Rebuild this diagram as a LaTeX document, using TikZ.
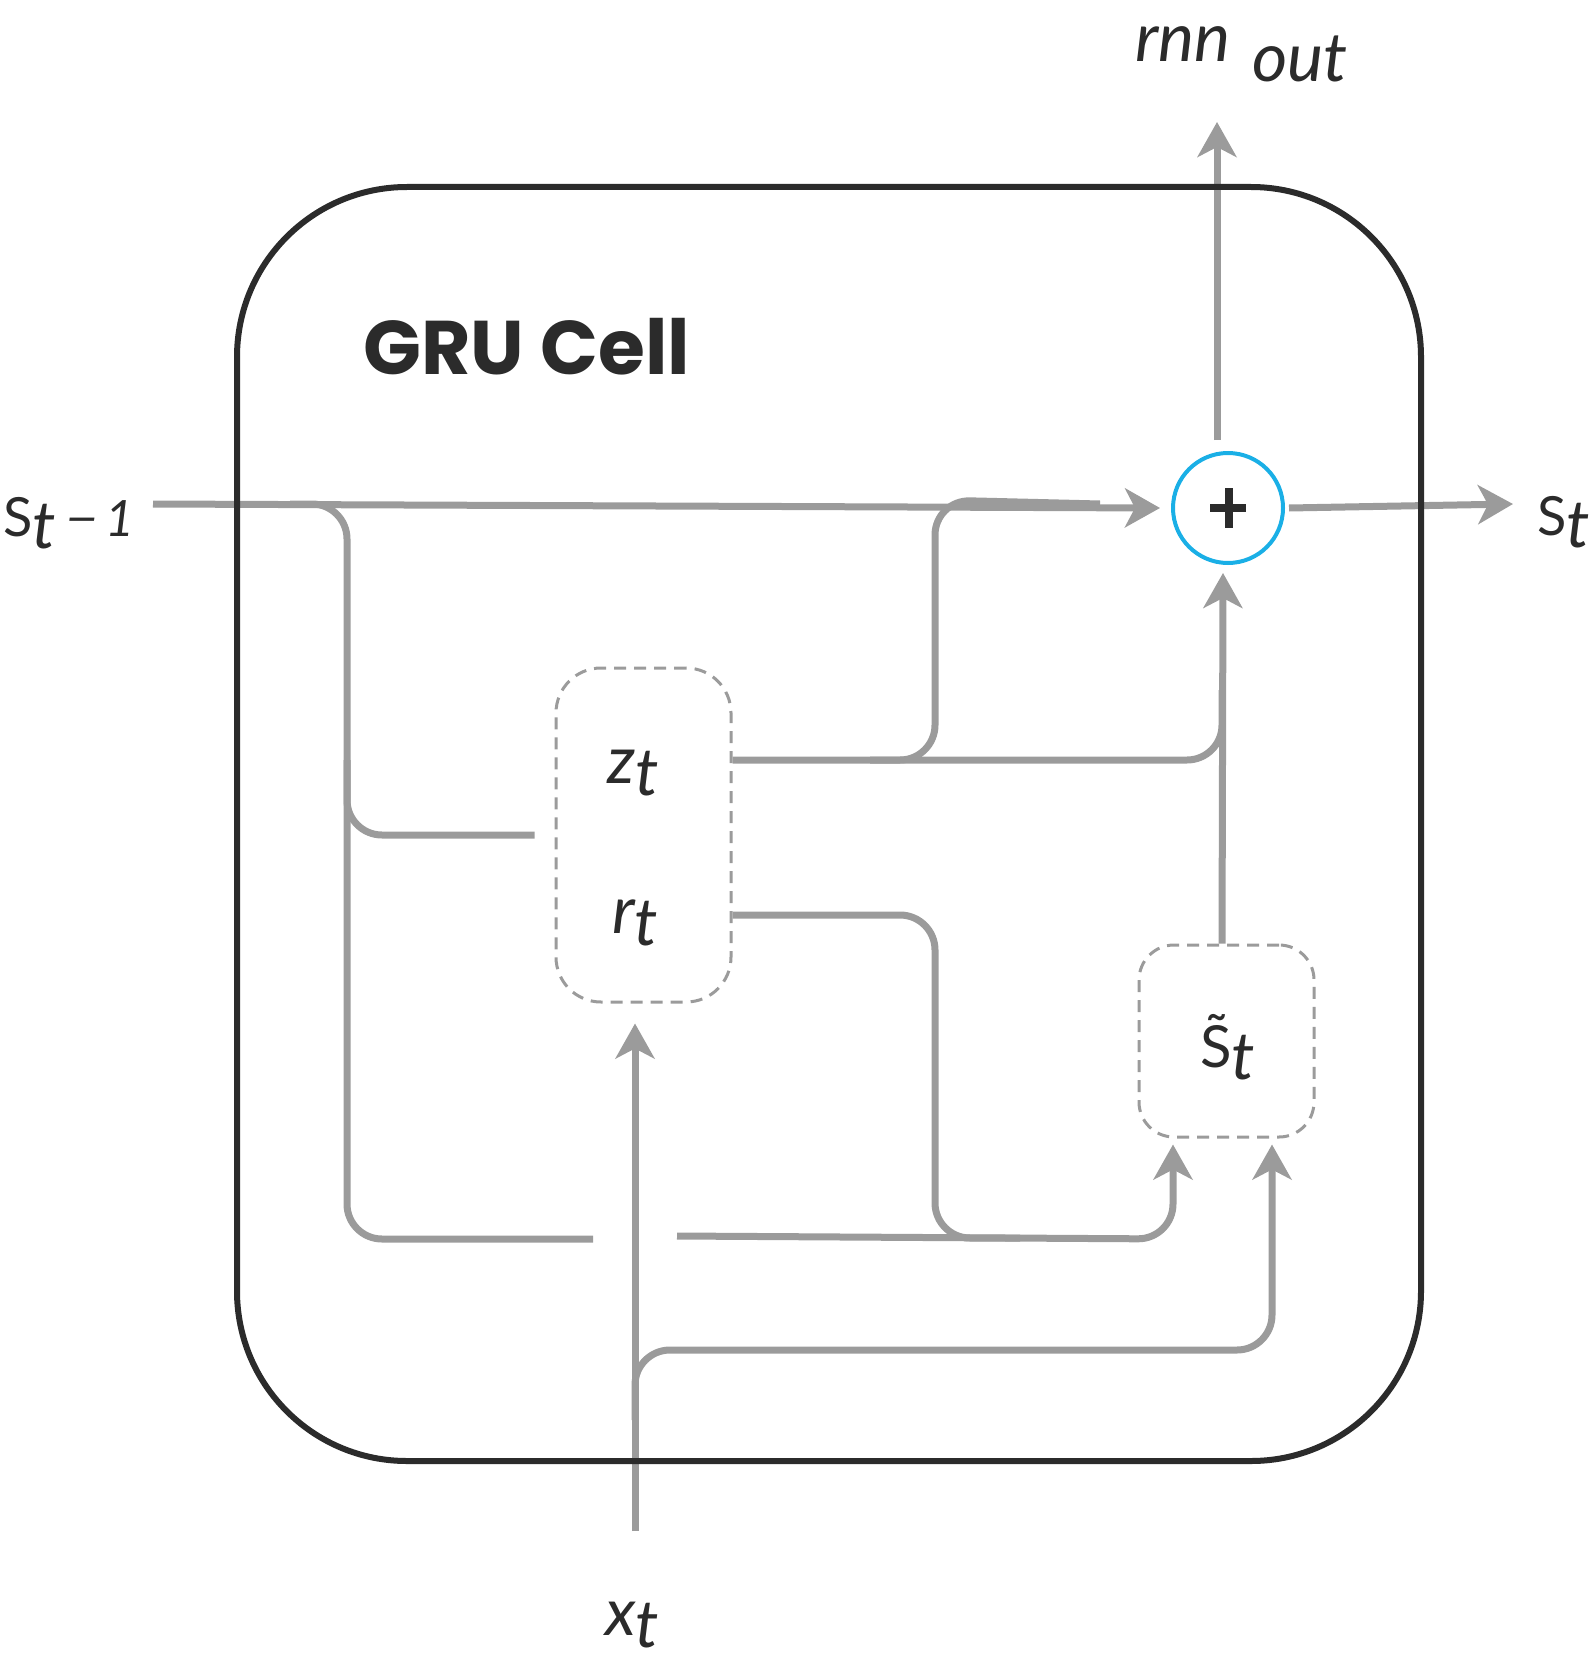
\documentclass[tikz,border=0pt]{standalone}
\usepackage{fontspec}
\usepackage{graphicx}
\setmainfont{Lato}
\newfontfamily\titlefont{Poppins}
\usetikzlibrary{arrows.meta}
\definecolor{ink}{HTML}{2B2B2B}
\definecolor{wirec}{HTML}{9B9B9B}
\definecolor{plusblue}{HTML}{1AAFE6}
\newcommand\lowt[1]{\raisebox{-12pt}{#1}}
\newcommand\bigS{{\fontsize{54}{54}\selectfont S}}
\begin{document}
\begin{tikzpicture}[x=1pt,y=-1pt,
  wire/.style={draw=wirec, line width=7pt, rounded corners=35pt},
  arr/.style={-{Stealth[length=35pt,width=39pt,inset=10pt]}},
  gatebox/.style={draw=wirec, line width=3pt, dash pattern=on 12pt off 8pt, inner sep=0pt},
  lbl/.style={font=\fontsize{66}{66}\selectfont, text=ink, inner sep=0pt, anchor=base west}
]
\useasboundingbox (0,0) rectangle (1594,1669);

% gate boxes
\node[gatebox, rounded corners=45pt, minimum width=175pt, minimum height=334pt] (gate) at (643.5,835) {};
\node[gatebox, rounded corners=35pt, minimum width=175pt, minimum height=192pt] (stilde) at (1226.5,1041) {};
\node[circle, draw=plusblue, line width=4pt, minimum size=110pt, inner sep=0pt] (plus) at (1228,508) {};
\draw[ink, line width=8pt] ([xshift=-18pt]plus.center) -- ([xshift=18pt]plus.center);
\draw[ink, line width=8pt] ([xshift=1pt,yshift=20pt]plus.center) -- ([xshift=1pt,yshift=-20pt]plus.center);

% free ends
\coordinate (sprevend) at (153,504);
\coordinate (snextend) at (1513,504);
\coordinate (rnntip) at (1217,122);
\coordinate (xbot) at (635,1531);

% main state line
\draw[wire, arr] (sprevend) -- ([xshift=-11pt]plus.west);
\draw[wire, arr] ([xshift=4pt]plus.east) -- (snextend);
\draw[wire, arr] ([xshift=-11pt,yshift=11pt]plus.north) -- (rnntip);
\draw[wire, arr] ([xshift=-4.5pt]stilde.north) -- ([xshift=-5pt,yshift=-8pt]plus.south);

% left branch of s_{t-1}
\draw[wire] (290,504) -- (347,504) -- (347,1239) -- (593,1239);
\draw[wire] (347,760) -- (347,835) -- ([xshift=-20pt]gate.west);

% z_t outputs
\draw[wire] ([yshift=75pt]gate.east) -- (1222,760) -- (1222,690);
\draw[wire] (870,760) -- (935,760) -- (935,500) -- (1100,504);

% r_t output
\draw[wire] ([yshift=-80pt]gate.east) -- (935,915) -- (935,1238) -- (1020,1238);

% bottom line into s-tilde
\draw[wire, arr] (677,1236) -- (1173,1239) -- ([xshift=-53.5pt,yshift=-6pt]stilde.south);

% x_t input
\draw[wire, arr] (xbot) -- ([xshift=-8.5pt,yshift=-20pt]gate.south);
\draw[wire, arr] (635,1420) -- (635,1350) -- (1272,1350) -- ([xshift=45.5pt,yshift=-6pt]stilde.south);

% outer cell
\node[draw=ink, line width=6pt, rounded corners=170pt, minimum width=1184pt, minimum height=1274pt, inner sep=0pt] (cell) at (829,824) {};

% labels
\node[anchor=base west, inner sep=0pt, text=ink, font=\titlefont\bfseries\fontsize{76}{76}\selectfont] (title) at (363,374) {GRU Cell};
\node[lbl] (sprev) at (3,536) {\bigS\lowt{\itshape t}\hspace{10pt}{\fontsize{50}{50}\selectfont\itshape\scalebox{1.15}[1]{−}\hspace{6pt}1}};
\node[lbl] (snext) at (1537,535) {\bigS\lowt{\itshape t}};
\node[lbl, font=\fontsize{68}{68}\selectfont] (rnn) at (1135,62) {\itshape rnn\hspace{22pt}\raisebox{-20pt}{out}};
\node[lbl] (zt) at (607,783) {\itshape z\lowt{t}};
\node[lbl] (rt) at (612,933) {\itshape r\lowt{t}};
\node[lbl] (xt) at (605,1635) {\itshape x\lowt{t}};
\node[lbl] (stl) at (1200,1067) {{\fontsize{58}{58}\selectfont\~{S}}\lowt{\itshape t}};
\end{tikzpicture}
\end{document}
